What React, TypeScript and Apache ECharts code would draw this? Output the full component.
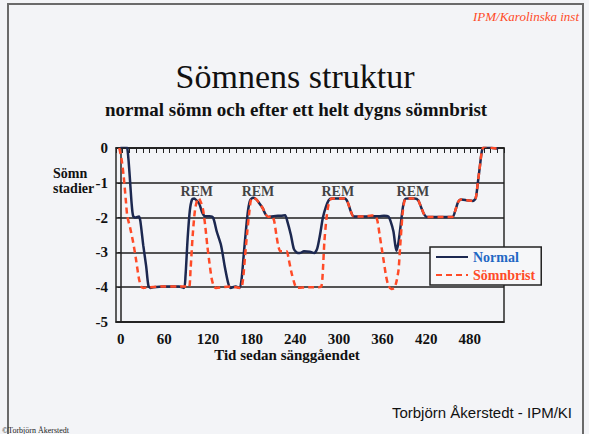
import React, { useEffect, useRef } from "react";
import * as echarts from "echarts";

// Sleep stage hypnograms (minutes since bedtime, sleep stage)
const normalSeries: [number, number][] = [
  [0, 0], [3, 0.05], [6, 0.05], [9, 0], [12, -0.7], [15, -1.6], [17, -1.95], [20, -2], [25, -1.97],
  [27, -2.1], [31, -2.8], [35, -3.4], [38, -3.95], [41, -4.02], [45, -4], [60, -3.98], [80, -3.98],
  [87, -4.02], [89, -3.7], [92, -2.6], [95, -1.8], [98, -1.48], [101, -1.45], [104, -1.5], [108, -1.6],
  [112, -1.85], [116, -1.96], [122, -1.96], [127, -2], [132, -2.4], [138, -2.8], [143, -3.4], [148, -3.9],
  [151, -4.02], [158, -3.98], [163, -4.02], [166, -3.8], [169, -3.1], [172, -2.4], [175, -1.8], [178, -1.5],
  [182, -1.43], [186, -1.47], [190, -1.57], [195, -1.72], [199, -1.9], [203, -1.98], [210, -1.96],
  [216, -1.95], [220, -1.95], [226, -1.93], [229, -2.1], [234, -2.5], [238, -2.9], [242, -3.0],
  [246, -3.02], [252, -2.97], [260, -2.98], [266, -3.02], [270, -2.9], [274, -2.5], [278, -2.0],
  [282, -1.7], [286, -1.5], [290, -1.45], [300, -1.45], [308, -1.45], [312, -1.55], [316, -1.8],
  [320, -1.96], [330, -1.97], [345, -1.96], [355, -1.96], [362, -1.95], [368, -1.97], [371, -2.1],
  [375, -2.4], [379, -2.95], [382, -2.7], [385, -2.2], [388, -1.7], [391, -1.47], [396, -1.45],
  [404, -1.45], [409, -1.5], [413, -1.7], [417, -1.9], [421, -1.98], [440, -1.98], [456, -1.98],
  [460, -1.8], [464, -1.55], [468, -1.48], [476, -1.5], [484, -1.52], [488, -1.45], [491, -1.0],
  [494, -0.5], [497, -0.05], [501, 0.05], [507, 0.03], [512, 0.0], [519, -0.02],
];

const deprivedSeries: [number, number][] = [
  [-2, 0], [1, -0.3], [4, -0.8], [7, -1.5], [9, -1.95], [13, -2.3], [17, -2.7], [21, -3.2], [25, -3.75],
  [28, -3.97], [31, -4.02], [40, -4], [60, -3.98], [80, -3.98], [90, -3.98], [94, -4.0], [96, -3.5],
  [99, -2.5], [102, -1.8], [105, -1.5], [107, -1.44], [110, -1.55], [113, -1.75], [116, -2.2],
  [119, -2.8], [122, -3.3], [125, -3.75], [128, -3.97], [131, -4.02], [150, -3.98], [165, -4.02],
  [168, -3.8], [171, -3.1], [174, -2.4], [177, -1.8], [179, -1.5], [182, -1.43], [186, -1.47],
  [190, -1.57], [195, -1.72], [199, -1.9], [203, -1.98], [208, -1.95], [211, -2.1], [214, -2.5],
  [217, -2.85], [220, -2.97], [228, -2.97], [231, -3.2], [235, -3.6], [239, -3.9], [242, -4.02],
  [260, -4], [272, -4.0], [276, -3.97], [278, -3.5], [280, -2.7], [283, -2.0], [286, -1.6], [290, -1.45],
  [300, -1.45], [308, -1.45], [312, -1.55], [316, -1.8], [320, -1.96], [335, -1.97], [345, -1.94],
  [350, -1.95], [353, -2.1], [356, -2.5], [359, -2.9], [362, -3.3], [365, -3.7], [368, -3.95],
  [372, -4.05], [376, -4.03], [379, -3.85], [382, -3.5], [384, -2.9], [386, -2.3], [388, -1.8],
  [391, -1.47], [396, -1.45], [404, -1.45], [409, -1.5], [413, -1.7], [417, -1.9], [421, -1.98],
  [440, -1.98], [456, -1.98], [460, -1.8], [464, -1.55], [468, -1.48], [476, -1.5], [484, -1.52],
  [488, -1.45], [491, -1.0], [494, -0.5], [497, -0.05], [501, 0.05], [507, 0.03], [512, 0.0], [519, -0.02],
];

const remLabels: [number, number][] = [
  [104.5, -1.26], [188.7, -1.26], [298.5, -1.26], [401.8, -1.26],
];

const xTickLabels = [0, 60, 120, 180, 240, 300, 360, 420, 480];
const yTicks = [0, -1, -2, -3, -4, -5];

const X_MIN = -6.5;
const X_MAX = 527;
const TOP_TICK_COUNT = 58;

const SERIF = "'Liberation Serif', 'Times New Roman', serif";
const SANS = "'Liberation Sans', Arial, sans-serif";
const NAVY = "#1c2850";
const RED = "#ff4b28";

export default function App() {
  const ref = useRef<HTMLDivElement>(null);

  useEffect(() => {
    if (!ref.current) return;
    const chart = echarts.init(ref.current, undefined, { renderer: "svg" });
    const topTicks: number[] = [];
    for (let k = 0; k <= TOP_TICK_COUNT; k++) {
      topTicks.push(X_MIN + (k * (X_MAX - X_MIN)) / TOP_TICK_COUNT);
    }
    chart.setOption({
      animation: false,
      backgroundColor: "#f3f4f7",
      textStyle: { fontFamily: SERIF },
      grid: {
        left: 116,
        right: 85,
        top: 148,
        bottom: 112,
        show: true,
        borderColor: "#2a2a2a",
        borderWidth: 1.5,
        backgroundColor: "transparent",
      },
      legend: {
        data: [
          { name: "Normal", textStyle: { color: "#1f68c4" } },
          { name: "Sömnbrist", textStyle: { color: RED } },
        ],
        orient: "vertical",
        left: 430,
        top: 247,
        itemWidth: 32,
        itemHeight: 14,
        itemGap: 4,
        padding: [3, 6, 3, 5],
        backgroundColor: "#f6f7f9",
        borderColor: "#222",
        borderWidth: 1.5,
        borderRadius: 0,
        itemStyle: { opacity: 0 },
        textStyle: { fontFamily: SERIF, fontWeight: "bold", fontSize: 14 },
      },
      xAxis: [
        {
          type: "value",
          position: "top",
          min: X_MIN,
          max: X_MAX,
          axisLine: { show: true, lineStyle: { color: "#222", width: 1.5 } },
          axisTick: {
            show: true,
            inside: true,
            length: 5,
            customValues: topTicks,
            lineStyle: { color: "#222", width: 1 },
          },
          axisLabel: { show: false },
          splitLine: { show: false },
        },
        {
          type: "value",
          position: "bottom",
          min: X_MIN,
          max: X_MAX,
          axisLine: { show: true, lineStyle: { color: "#222", width: 1.5 } },
          axisTick: { show: false },
          axisLabel: {
            show: true,
            customValues: xTickLabels,
            margin: 9,
            fontFamily: SERIF,
            fontWeight: "bold",
            fontSize: 15,
            color: "#111",
          },
          splitLine: { show: false },
        },
      ],
      yAxis: {
        type: "value",
        min: -5,
        max: 0,
        interval: 1,
        axisLine: { show: true, lineStyle: { color: "#222", width: 1.5 } },
        axisTick: { show: true, length: 3, lineStyle: { color: "#222" } },
        axisLabel: {
          margin: 8,
          fontFamily: SERIF,
          fontWeight: "bold",
          fontSize: 15,
          color: "#111",
          formatter: (v: number) => (yTicks.includes(v) ? String(v) : ""),
        },
        splitLine: { show: true, lineStyle: { color: "#1e1e1e", width: 1.5 } },
      },
      series: [
        {
          name: "Sömnbrist",
          type: "line",
          xAxisIndex: 0,
          data: deprivedSeries,
          showSymbol: false,
          symbol: "none",
          smooth: 0.25,
          lineStyle: { color: RED, width: 2.5, type: [6, 4] },
          itemStyle: { color: RED },
          z: 3,
        },
        {
          name: "Normal",
          type: "line",
          xAxisIndex: 0,
          data: normalSeries,
          showSymbol: false,
          symbol: "none",
          smooth: 0.25,
          lineStyle: { color: NAVY, width: 2.5 },
          itemStyle: { color: NAVY },
          z: 2,
        },
        {
          name: "REM",
          type: "scatter",
          xAxisIndex: 0,
          data: remLabels,
          symbolSize: 1,
          itemStyle: { color: "rgba(0,0,0,0)" },
          label: {
            show: true,
            position: "inside",
            formatter: "REM",
            fontFamily: SERIF,
            fontWeight: "bold",
            fontSize: 14,
            color: "#111",
          },
          z: 5,
        },
      ],
      graphic: [
        {
          type: "rect",
          shape: { x: 8, y: 4, width: 575, height: 440 },
          style: { fill: "transparent", stroke: "#6a6a6a", lineWidth: 2 },
          silent: true,
        },
        {
          type: "text",
          right: 10,
          top: 10,
          style: {
            text: "IPM/Karolinska inst",
            font: `italic 13px ${SERIF}`,
            fill: RED,
          },
        },
        {
          type: "text",
          x: 295,
          y: 76,
          style: {
            text: "Sömnens struktur",
            font: `34px ${SERIF}`,
            fill: "#111",
            align: "center",
            verticalAlign: "middle",
          },
        },
        {
          type: "text",
          x: 296,
          y: 109,
          style: {
            text: "normal sömn och efter ett helt dygns sömnbrist",
            font: `bold 19px ${SERIF}`,
            fill: "#111",
            align: "center",
            verticalAlign: "middle",
          },
        },
        {
          type: "text",
          x: 53,
          y: 166,
          style: {
            text: "Sömn\nstadier",
            font: `bold 14px ${SERIF}`,
            lineHeight: 15,
            fill: "#111",
            align: "left",
            verticalAlign: "top",
          },
        },
        {
          type: "text",
          x: 287,
          y: 355,
          style: {
            text: "Tid sedan sänggåendet",
            font: `bold 15px ${SERIF}`,
            fill: "#111",
            align: "center",
            verticalAlign: "middle",
          },
        },
        {
          type: "text",
          x: 572,
          y: 412,
          style: {
            text: "Torbjörn Åkerstedt - IPM/KI",
            font: `15px ${SANS}`,
            fill: "#111",
            align: "right",
            verticalAlign: "middle",
          },
        },
        {
          type: "text",
          x: 2,
          y: 430,
          style: {
            text: "©Torbjörn Åkerstedt",
            font: `8px ${SERIF}`,
            fill: "#222",
            align: "left",
            verticalAlign: "middle",
          },
        },
      ],
    });
    return () => chart.dispose();
  }, []);

  return (
    <div
      ref={ref}
      style={{ position: "fixed", left: 0, top: 0, width: 589, height: 434 }}
    />
  );
}
